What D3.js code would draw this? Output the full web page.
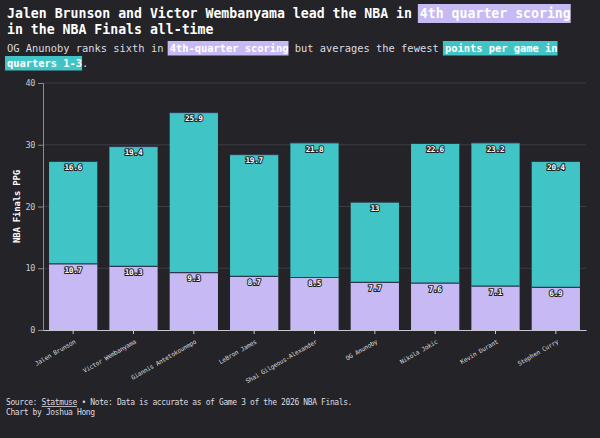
<!DOCTYPE html>
<html lang="en">
<head>
<meta charset="utf-8">
<title>4th quarter scoring in the NBA Finals</title>
<script src="https://cdn.jsdelivr.net/npm/d3@7"></script>
<style>
  html, body { margin: 0; padding: 0; background: #232328; }
  svg { display: block; font-family: "DejaVu Sans Mono", "Liberation Mono", monospace; }
  .tick text { font-family: "DejaVu Sans Mono", "Liberation Mono", monospace; }
</style>
</head>
<body>
<script>
// data
var players = ["Jalen Brunson", "Victor Wembanyama", "Giannis Antetokounmpo", "LeBron James",
  "Shai Gilgeous-Alexander", "OG Anunoby", "Nikola Jokic", "Kevin Durant", "Stephen Curry"];
var q4 = [10.7, 10.3, 9.3, 8.7, 8.5, 7.7, 7.6, 7.1, 6.9];
var q13 = [16.6, 19.4, 25.9, 19.7, 21.8, 13, 22.6, 23.2, 20.4];
var yTicks = [0, 10, 20, 30, 40];

var w = 600, h = 438;
var margin = {top: 83, right: 14, bottom: 108, left: 43};
var lavender = "#c6b9f4", teal = "#40c4c5", bg = "#232328";

var svg = d3.select("body").append("svg")
  .attr("width", w)
  .attr("height", h);

svg.append("rect").attr("width", w).attr("height", h).attr("fill", bg);

var x = d3.scaleBand()
  .domain(players)
  .range([margin.left, w - margin.right])
  .paddingInner(0.2)
  .paddingOuter(0.1);

var y = d3.scaleLinear()
  .domain([0, 40])
  .range([h - margin.bottom, margin.top]);

// grid
svg.append("g")
  .selectAll("line")
  .data(yTicks.slice(1))
  .enter().append("line")
  .attr("x1", margin.left).attr("x2", w - margin.right)
  .attr("y1", function(d) { return y(d); })
  .attr("y2", function(d) { return y(d); })
  .attr("stroke", "#3d3d44")
  .attr("stroke-width", 1);

// stacked bars
var rows = players.map(function(p, i) { return {name: p, q4: q4[i], q13: q13[i]}; });

var bars = svg.append("g");
bars.selectAll(".bottom")
  .data(rows).enter().append("rect")
  .attr("class", "bottom")
  .attr("x", function(d) { return x(d.name); })
  .attr("width", x.bandwidth())
  .attr("y", function(d) { return y(d.q4); })
  .attr("height", function(d) { return y(0) - y(d.q4); })
  .attr("fill", lavender);

bars.selectAll(".top")
  .data(rows).enter().append("rect")
  .attr("class", "top")
  .attr("x", function(d) { return x(d.name); })
  .attr("width", x.bandwidth())
  .attr("y", function(d) { return y(d.q4 + d.q13); })
  .attr("height", function(d) { return y(d.q4) - y(d.q4 + d.q13); })
  .attr("fill", teal);

// thin dark edges on top of each segment
bars.selectAll(".edge4")
  .data(rows).enter().append("line")
  .attr("x1", function(d) { return x(d.name); })
  .attr("x2", function(d) { return x(d.name) + x.bandwidth(); })
  .attr("y1", function(d) { return y(d.q4); })
  .attr("y2", function(d) { return y(d.q4); })
  .attr("stroke", "#2c3650").attr("stroke-width", 1.2);

bars.selectAll(".edge13")
  .data(rows).enter().append("line")
  .attr("x1", function(d) { return x(d.name); })
  .attr("x2", function(d) { return x(d.name) + x.bandwidth(); })
  .attr("y1", function(d) { return y(d.q4 + d.q13); })
  .attr("y2", function(d) { return y(d.q4 + d.q13); })
  .attr("stroke", "#2c3650").attr("stroke-width", 1);

// value labels
function valLabel(cls, getTop, getVal) {
  svg.append("g").selectAll("text")
    .data(rows).enter().append("text")
    .attr("class", cls)
    .attr("x", function(d) { return x(d.name) + x.bandwidth() / 2; })
    .attr("y", function(d) { return getTop(d) + 8.8; })
    .attr("text-anchor", "middle")
    .attr("font-size", 7.8)
    .attr("font-weight", 700)
    .attr("letter-spacing", -0.3)
    .attr("fill", "#fff")
    .attr("stroke", "#1e1e26")
    .attr("stroke-width", 2)
    .attr("paint-order", "stroke")
    .text(function(d) { return String(getVal(d)); });
}
valLabel("v13", function(d) { return y(d.q4 + d.q13); }, function(d) { return d.q13; });
valLabel("v4", function(d) { return y(d.q4); }, function(d) { return d.q4; });

// axes
var yAxis = svg.append("g")
  .attr("transform", "translate(" + margin.left + ",0)")
  .call(d3.axisLeft(y).tickValues(yTicks).tickSize(5).tickPadding(3));
yAxis.select(".domain").attr("stroke", "#8a8a90");
yAxis.selectAll(".tick line").attr("stroke", "#8a8a90");
yAxis.selectAll(".tick text").attr("fill", "#c8c8cc").attr("font-size", 8.5).attr("letter-spacing", -0.4);

var xAxis = svg.append("g")
  .attr("transform", "translate(0," + y(0) + ")")
  .call(d3.axisBottom(x).tickSize(4).tickSizeOuter(0));
xAxis.select(".domain").attr("stroke", "#c8c8cc");
xAxis.selectAll(".tick line").attr("stroke", "#c8c8cc");
xAxis.selectAll(".tick text")
  .attr("fill", "#d8d8dc")
  .attr("font-size", 6.2)
  .attr("letter-spacing", -0.2)
  .attr("text-anchor", "end")
  .attr("y", 0).attr("dy", 0)
  .attr("transform", "translate(3,13) rotate(-30)");

// y axis title
svg.append("text")
  .attr("transform", "translate(20," + ((margin.top + h - margin.bottom) / 2) + ") rotate(-90)")
  .attr("text-anchor", "middle")
  .attr("font-size", 9)
  .attr("font-weight", 700)
  .attr("letter-spacing", -0.2)
  .attr("fill", "#fff")
  .text("NBA Finals PPG");

// title / subtitle with highlighted pieces
function richLine(parts, opts) {
  var g = svg.append("g");
  var t = g.append("text")
    .attr("x", opts.x).attr("y", opts.y)
    .attr("font-size", opts.size)
    .attr("font-weight", opts.weight)
    .attr("letter-spacing", opts.ls)
    .attr("fill", opts.fill);
  t.selectAll("tspan").data(parts).enter().append("tspan")
    .attr("font-weight", function(d) { return d.hl ? 700 : null; })
    .attr("fill", function(d) { return d.hl ? "#fff" : null; })
    .text(function(d) { return d.t; });
  var full = parts.map(function(d) { return d.t; }).join("");
  var adv = t.node().getComputedTextLength() / full.length;
  var pos = 0;
  parts.forEach(function(d) {
    if (d.hl) {
      g.insert("rect", "text")
        .attr("x", opts.x + pos * adv - 2)
        .attr("width", d.t.length * adv + 2)
        .attr("y", opts.y - opts.up)
        .attr("height", opts.hh)
        .attr("fill", d.hl);
    }
    pos += d.t.length;
  });
}

var titleOpts = {x: 7, size: 13.2, weight: 700, ls: 0, fill: "#fff", up: 14, hh: 19};
richLine([{t: "Jalen Brunson and Victor Wembanyama lead the NBA in "},
  {t: "4th quarter scoring", hl: lavender}], Object.assign({y: 18}, titleOpts));
richLine([{t: "in the NBA Finals all-time"}], Object.assign({y: 34}, titleOpts));

var subOpts = {x: 7, size: 10.4, weight: 400, ls: 0, fill: "#dcdce0", up: 11, hh: 14.5};
richLine([{t: "OG Anunoby ranks sixth in "}, {t: "4th-quarter scoring", hl: lavender},
  {t: " but averages the fewest "}, {t: "points per game in", hl: teal}],
  Object.assign({y: 52}, subOpts));
richLine([{t: "quarters 1-3", hl: teal}, {t: "."}], Object.assign({y: 67}, subOpts));

// footer
var foot = svg.append("text")
  .attr("x", 6).attr("y", 405)
  .attr("font-size", 8)
  .attr("letter-spacing", -0.38)
  .attr("fill", "#dcdce0");
foot.append("tspan").text("Source: ");
foot.append("tspan").attr("text-decoration", "underline").text("Statmuse");
foot.append("tspan").text(" \u2022 Note: Data is accurate as of Game 3 of the 2026 NBA Finals.");

svg.append("text")
  .attr("x", 6).attr("y", 415)
  .attr("font-size", 8)
  .attr("letter-spacing", -0.38)
  .attr("fill", "#dcdce0")
  .text("Chart by Joshua Hong");
</script>
</body>
</html>
